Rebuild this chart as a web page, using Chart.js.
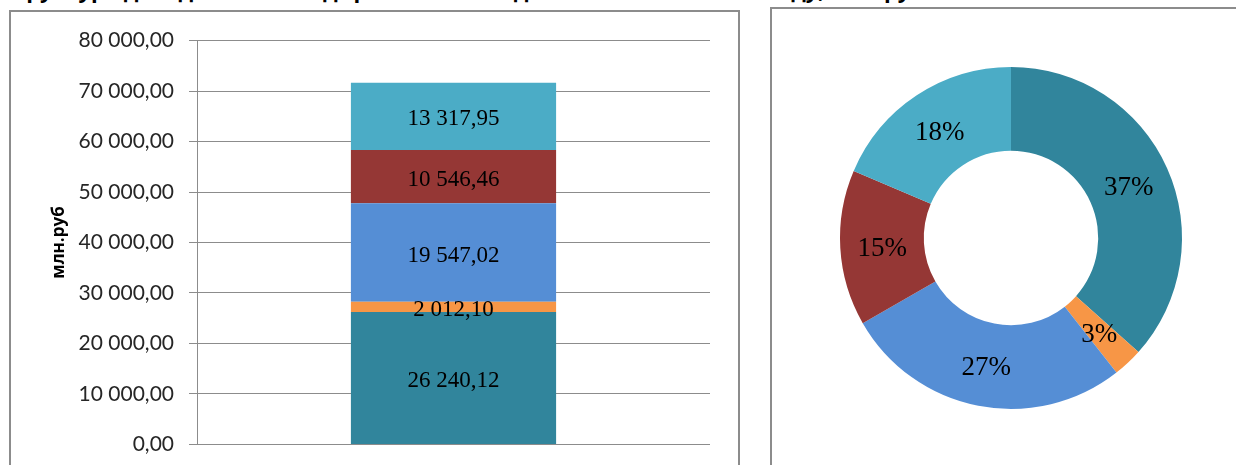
<!DOCTYPE html>
<html lang="ru">
<head>
<meta charset="utf-8">
<title>Структура доходов</title>
<script src="https://cdn.jsdelivr.net/npm/chart.js@4.4.1/dist/chart.umd.min.js"></script>
<style>
  html, body { margin: 0; padding: 0; background: #fff; overflow: hidden; }
  body { width: 1236px; height: 465px; position: relative; }
  .title {
    position: absolute; left: 0; top: -26px; white-space: nowrap;
    font: bold 22px 'Open Sans', sans-serif; color: #000;
  }
  .panel { position: absolute; border: 2px solid #8c8c8c; box-sizing: border-box; }
  #barPanel { left: 9px; top: 10px; width: 731px; height: 480px; }
  #piePanel { left: 770px; top: 7px; width: 480px; height: 480px; }
  canvas { position: absolute; }
  #barChart { left: 12px; top: 13px; }
  #pieChart { left: 773px; top: 10px; }
</style>
</head>
<body>
<div class="title">Структура доходов консолидированного бюджета области в 2014 году, млн.руб. и %</div>
<div class="panel" id="barPanel"></div>
<div class="panel" id="piePanel"></div>
<canvas id="barChart" width="725" height="459"></canvas>
<canvas id="pieChart" width="463" height="455"></canvas>
<script>
'use strict';

// ── Data ─────────────────────────────────────────────────────────────────────

const categories = ['Доходы'];
const values     = [26240.12, 2012.10, 19547.02, 10546.46, 13317.95];
const colors     = ['#31859c', '#f79646', '#558ed5', '#953735', '#4bacc6'];
const pctLabels  = ['37%', '3%', '27%', '15%', '18%'];
const yTicks     = { min: 0, max: 80000, step: 10000 };
const yTitle     = 'млн.руб';

const GRID = '#8c8c8c';

// ── Helpers ──────────────────────────────────────────────────────────────────

function formatRu(v) {
  const [int, dec] = v.toFixed(2).split('.');
  return int.replace(/\B(?=(\d{3})+(?!\d))/g, ' ') + ',' + dec;
}

const barLabels = {
  id: 'barLabels',
  afterDatasetsDraw(chart) {
    const ctx = chart.ctx;
    ctx.save();
    ctx.font = '23px "Liberation Serif", serif';
    ctx.fillStyle = '#000';
    ctx.textAlign = 'center';
    ctx.textBaseline = 'middle';
    chart.data.datasets.forEach((ds, i) => {
      chart.getDatasetMeta(i).data.forEach((bar, j) => {
        ctx.fillText(formatRu(ds.data[j]), bar.x, (bar.y + bar.base) / 2 + 3);
      });
    });
    ctx.restore();
  },
};

const arcLabels = {
  id: 'arcLabels',
  afterDatasetsDraw(chart) {
    const ctx = chart.ctx;
    ctx.save();
    ctx.font = '27px "Liberation Serif", serif';
    ctx.fillStyle = '#000';
    ctx.textAlign = 'center';
    ctx.textBaseline = 'middle';
    chart.getDatasetMeta(0).data.forEach((arc, i) => {
      const p = arc.tooltipPosition();
      ctx.fillText(pctLabels[i], p.x, p.y + 3);
    });
    ctx.restore();
  },
};

// ── Stacked bar ──────────────────────────────────────────────────────────────

new Chart(document.getElementById('barChart').getContext('2d'), {
  type: 'bar',
  data: {
    labels: categories,
    datasets: values.map((v, i) => ({
      data: [v],
      backgroundColor: colors[i],
      borderWidth: 0,
      categoryPercentage: 0.4,
      barPercentage: 1,
    })),
  },
  options: {
    responsive: false,
    animation: false,
    layout: { padding: { left: 0, right: 27, top: 27, bottom: 14 } },
    plugins: { legend: { display: false }, tooltip: { enabled: false } },
    scales: {
      x: { stacked: true, display: false },
      y: {
        stacked: true,
        min: yTicks.min,
        max: yTicks.max,
        afterFit: scale => { scale.width = 185; },
        ticks: {
          stepSize: yTicks.step,
          padding: 15,
          color: '#262626',
          font: { family: 'Lato', size: 21 },
          callback: v => formatRu(v),
        },
        grid: { color: GRID, lineWidth: 1, tickLength: 8 },
        border: { display: true, color: GRID, width: 1 },
        title: {
          display: true,
          text: yTitle,
          color: '#000',
          font: { family: 'Open Sans', size: 17, weight: 'bold' },
          padding: { top: 37, bottom: 0 },
        },
      },
    },
  },
  plugins: [barLabels],
});

// ── Doughnut ─────────────────────────────────────────────────────────────────

new Chart(document.getElementById('pieChart').getContext('2d'), {
  type: 'doughnut',
  data: {
    labels: pctLabels,
    datasets: [{
      data: values,
      backgroundColor: colors,
      borderWidth: 0,
      hoverOffset: 0,
    }],
  },
  options: {
    responsive: false,
    animation: false,
    cutout: '51%',
    layout: { padding: { left: 67, right: 54, top: 57, bottom: 56 } },
    plugins: { legend: { display: false }, tooltip: { enabled: false } },
  },
  plugins: [arcLabels],
});
</script>
</body>
</html>
